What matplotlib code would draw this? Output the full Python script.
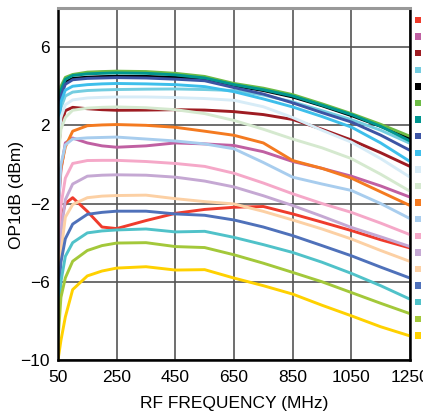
import numpy as np
import matplotlib
matplotlib.use('Agg')
import matplotlib.pyplot as plt

plt.rcParams['font.family'] = ['Liberation Sans', 'DejaVu Sans']

freq = [50, 60, 75, 100, 150, 200, 250, 350, 450, 550, 650, 750, 850, 950, 1050, 1150, 1250]

# OP1dB curves (dBm), legend order top to bottom
red       = [-4.5, -2.8, -2.0, -1.7, -2.4, -3.2, -3.28, -2.87, -2.5, -2.3, -2.19, -2.15, -2.53, -2.95, -3.38, -3.85, -4.27]
magenta   = [-2.5, -0.3, 1.1, 1.35, 1.1, 0.95, 0.88, 0.95, 1.1, 1.05, 0.97, 0.65, 0.15, -0.2, -0.6, -1.1, -1.67]
dark_red  = [0.5, 2.0, 2.75, 2.92, 2.85, 2.8, 2.77, 2.78, 2.8, 2.78, 2.7, 2.55, 2.3, 1.8, 1.25, 0.6, -0.1]
lt_cyan   = [1.2, 2.9, 3.5, 3.7, 3.78, 3.81, 3.83, 3.85, 3.86, 3.83, 3.78, 3.55, 3.2, 2.75, 2.29, 1.75, 1.08]
black     = [1.9, 3.6, 4.2, 4.4, 4.46, 4.49, 4.51, 4.5, 4.45, 4.36, 4.03, 3.78, 3.45, 3.0, 2.5, 1.95, 1.33]
green     = [2.3, 4.0, 4.45, 4.6, 4.72, 4.75, 4.77, 4.75, 4.66, 4.5, 4.14, 3.9, 3.57, 3.1, 2.6, 2.05, 1.44]
teal      = [2.0, 3.8, 4.35, 4.55, 4.63, 4.66, 4.68, 4.66, 4.58, 4.42, 4.08, 3.82, 3.5, 3.03, 2.55, 1.95, 1.2]
dark_blue = [1.8, 3.5, 4.1, 4.33, 4.4, 4.42, 4.44, 4.42, 4.36, 4.28, 3.93, 3.6, 3.15, 2.65, 2.17, 1.5, 0.72]
sky_blue  = [1.5, 3.2, 3.8, 4.0, 4.08, 4.12, 4.14, 4.12, 4.08, 3.98, 3.72, 3.35, 2.94, 2.45, 1.91, 1.1, 0.15]
pale_blue = [0.8, 2.4, 3.05, 3.3, 3.4, 3.43, 3.45, 3.45, 3.42, 3.37, 3.28, 2.95, 2.4, 1.75, 1.14, 0.3, -0.65]
pale_green = [0.2, 1.8, 2.4, 2.77, 2.88, 2.92, 2.94, 2.9, 2.8, 2.6, 2.25, 1.8, 1.3, 0.85, 0.3, -0.5, -1.37]
orange    = [-2.0, -0.2, 0.9, 1.7, 1.98, 2.02, 2.04, 2.0, 1.9, 1.7, 1.49, 1.1, 0.2, -0.2, -0.7, -1.4, -2.1]
lt_blue   = [-2.5, 0.0, 1.0, 1.3, 1.36, 1.38, 1.4, 1.3, 1.2, 1.05, 0.8, 0.1, -0.65, -1.0, -1.33, -2.0, -2.77]
pink      = [-4.5, -2.1, -0.7, 0.05, 0.2, 0.21, 0.21, 0.15, 0.05, -0.1, -0.45, -0.95, -1.5, -2.0, -2.45, -3.0, -3.59]
lavender  = [-5.5, -3.5, -1.8, -1.0, -0.6, -0.55, -0.53, -0.55, -0.65, -0.85, -1.15, -1.6, -2.1, -2.65, -3.22, -3.7, -4.2]
peach     = [-6.5, -4.5, -2.7, -2.05, -1.7, -1.62, -1.59, -1.57, -1.75, -1.9, -2.02, -2.4, -2.84, -3.3, -3.81, -4.4, -4.96]
blue      = [-7.0, -5.0, -3.8, -3.05, -2.55, -2.45, -2.39, -2.39, -2.53, -2.6, -2.84, -3.2, -3.64, -4.15, -4.67, -5.25, -5.81]
cyan      = [-8.0, -6.0, -4.7, -4.0, -3.5, -3.4, -3.35, -3.3, -3.45, -3.42, -3.73, -4.1, -4.5, -5.0, -5.57, -6.2, -6.89]
yel_green = [-9.0, -6.8, -5.8, -4.95, -4.4, -4.15, -4.02, -4.0, -4.2, -4.25, -4.62, -5.05, -5.52, -6.0, -6.55, -7.1, -7.63]
yellow    = [-10.0, -9.0, -7.8, -6.4, -5.7, -5.45, -5.3, -5.23, -5.4, -5.38, -5.81, -6.2, -6.63, -7.2, -7.74, -8.3, -8.77]

series = [red, magenta, dark_red, lt_cyan, black, green, teal, dark_blue, sky_blue, pale_blue,
          pale_green, orange, lt_blue, pink, lavender, peach, blue, cyan, yel_green, yellow]
colors = ['#ef3b2c', '#c060a2', '#9e1c22', '#74cde0', '#000000', '#6cbb45', '#00968f', '#3c54a4',
          '#3ebfeb', '#d7ecf7', '#d5e9cf', '#f47a20', '#a8cdee', '#f5a8c8', '#c5a8d3', '#fcd0a4',
          '#4f71ba', '#50c2c9', '#a3c83a', '#ffd100']

xticks = [50, 250, 450, 650, 850, 1050, 1250]
yticks = [-10, -6, -2, 2, 6]

fig = plt.figure(figsize=(4.23, 4.16), dpi=100)
ax = fig.add_axes([58/423, 56/416, 352/423, 352/416])

for s, c in zip(series, colors):
    ax.plot(freq, s, color=c, lw=2.1, solid_joinstyle='round')

ax.set_xlim(50, 1250)
ax.set_ylim(-10, 8)
ax.set_xticks(xticks)
ax.set_yticks(yticks)
ax.grid(True, color='#555555', lw=1.2)
ax.set_axisbelow(True)
ax.tick_params(length=0, labelsize=12.5, pad=6)
ax.tick_params(axis='x', pad=7)

for side in ['left', 'bottom', 'right']:
    ax.spines[side].set_linewidth(1.8)
    ax.spines[side].set_color('black')
ax.spines['top'].set_linewidth(2.2)
ax.spines['top'].set_color('#999999')

ax.set_xlabel('RF FREQUENCY (MHz)', fontsize=12.5, labelpad=8)
ax.set_ylabel('OP1dB (dBm)', fontsize=12.5)
ax.yaxis.set_label_coords(-0.098, 0.47)

# legend markers (labels fall outside the canvas)
lax = fig.add_axes([0, 0, 1, 1], facecolor='none')
lax.set_xlim(0, 423)
lax.set_ylim(416, 0)
lax.axis('off')
ys = [20 + i * 16.6 for i in range(len(colors))]
lax.scatter([418] * len(colors), ys, marker='s', s=22, c=colors, linewidths=0)

fig.savefig('out.png', dpi=100)
